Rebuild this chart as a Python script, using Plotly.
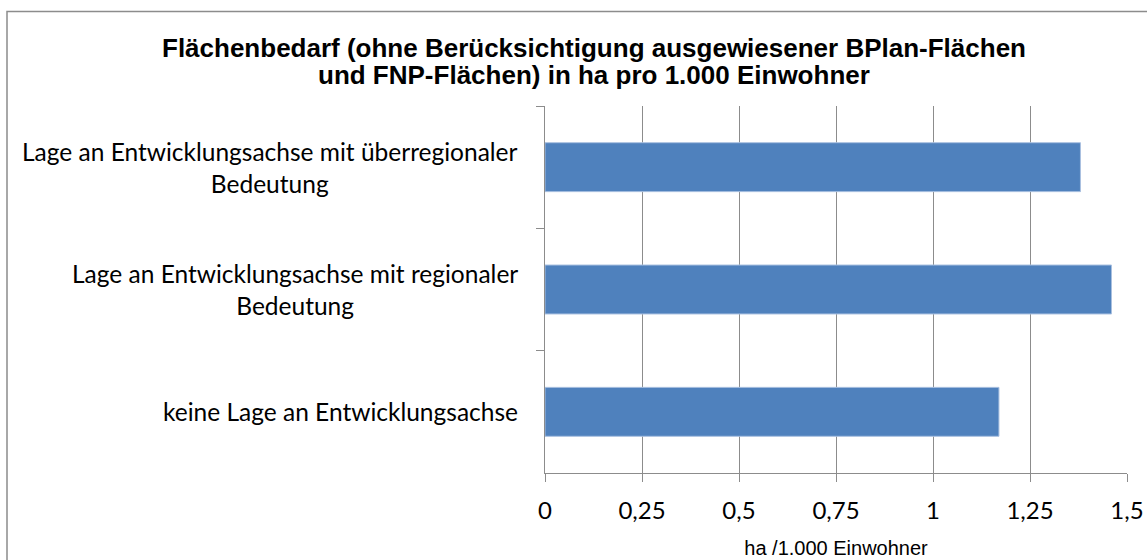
import plotly.graph_objects as go

categories = [
    "Lage an Entwicklungsachse mit überregionaler Bedeutung",
    "Lage an Entwicklungsachse mit regionaler Bedeutung",
    "keine Lage an Entwicklungsachse",
]
label_lines = [
    ["Lage an Entwicklungsachse mit überregionaler", "Bedeutung"],
    ["Lage an Entwicklungsachse mit regionaler", "Bedeutung"],
    ["keine Lage an Entwicklungsachse"],
]
values = [1.38, 1.46, 1.17]
x_ticks = [0, 0.25, 0.5, 0.75, 1, 1.25, 1.5]

title_lines = [
    "Flächenbedarf (ohne Berücksichtigung ausgewiesener BPlan-Flächen",
    "und FNP-Flächen) in ha pro 1.000 Einwohner",
]
x_title = "ha /1.000 Einwohner"

W, H = 1147, 560
ML, MR, MT, MB = 545, 20, 106, 87
PW, PH = W - ML - MR, H - MT - MB

axis_col = "#8c8c8c"
label_font = "Lato, Calibri, sans-serif"
arial = "Liberation Sans, Arial, sans-serif"

fig = go.Figure()
fig.add_trace(go.Bar(
    x=values, y=categories, orientation="h",
    marker=dict(color="#4F81BD", line=dict(color="#a9c0e0", width=1)),
    width=0.4, hoverinfo="x+y",
))

annotations = []
for cat, lines in zip(categories, label_lines):
    annotations.append(dict(
        x=(520 - ML) / PW, xref="paper", y=cat, yref="y",
        text="<br>".join(lines), showarrow=False, xanchor="right",
        align="center", yanchor="middle",
        font=dict(family=label_font, size=24.5, color="#000000"),
    ))

# title, two lines with tight line spacing
for i, line in enumerate(title_lines):
    yc = 48 + 27 * i
    annotations.append(dict(
        x=(594 - ML) / PW, xref="paper", xanchor="center",
        y=1 + (MT - yc) / PH, yref="paper", yanchor="middle",
        text="<b>" + line + "</b>", showarrow=False,
        font=dict(family=arial, size=26, color="#000000"),
    ))

fig.update_layout(
    width=W, height=H,
    margin=dict(l=ML, r=MR, t=MT, b=MB, autoexpand=False),
    paper_bgcolor="white", plot_bgcolor="white",
    separators=",.",
    showlegend=False,
    xaxis=dict(
        range=[0, 1.5], tickvals=x_ticks, showgrid=True, gridcolor=axis_col, gridwidth=1.3,
        zeroline=False, showline=True, linecolor=axis_col, linewidth=1.3,
        ticks="outside", ticklen=8, tickcolor=axis_col, tickwidth=1.3,
        tickfont=dict(family=label_font, size=24, color="#000000"),
        ticklabelstandoff=8,
        title=dict(text=x_title, standoff=18,
                   font=dict(family=arial, size=20, color="#000000")),
        fixedrange=True,
    ),
    yaxis=dict(
        categoryorder="array", categoryarray=categories, autorange="reversed",
        showticklabels=False, showgrid=False, zeroline=False,
        showline=True, linecolor=axis_col, linewidth=1.3,
        ticks="outside", tickson="boundaries", ticklen=8, tickcolor=axis_col, tickwidth=1.3,
        fixedrange=True,
    ),
    annotations=annotations,
    shapes=[dict(
        type="rect", xref="paper", yref="paper",
        x0=(7 - ML) / PW, x1=(W + 5 - ML) / PW,
        y0=-(H + 5 - (MT + PH)) / PH, y1=1 + (MT - 11.5) / PH,
        line=dict(color=axis_col, width=1.5), fillcolor="rgba(0,0,0,0)", layer="below",
    )],
)

fig.write_html("out.html", config={"displayModeBar": False},
               post_script="document.body.style.margin='0';")
